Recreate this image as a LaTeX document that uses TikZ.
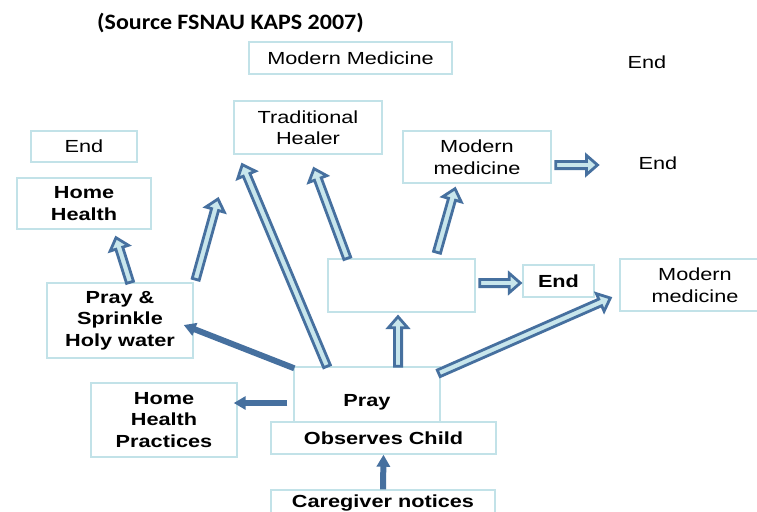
\documentclass[tikz,border=0pt]{standalone}
\usepackage{fontspec}
\setmainfont{Liberation Sans}[FakeStretch=1.24]
\newfontfamily\titlefont{Carlito}[FakeStretch=1.09]
\usepackage{tikz}
\usetikzlibrary{arrows.meta,calc}
\definecolor{edge}{HTML}{C2E2E8}
\definecolor{steel}{HTML}{46709F}
\definecolor{ice}{HTML}{C8E6EC}
\newcommand\boxfont{\fontsize{17.5}{21.5}\selectfont}
\tikzset{
  box/.style={draw=edge,line width=1.4pt,fill=white,align=center,inner sep=0pt,font=\boxfont},
  heavy/.style={box,font=\boxfont\bfseries},
  plain/.style={inner sep=0pt,font=\boxfont},
  hollow/.style={draw=steel,fill=ice,line width=2.8pt},
  push/.style={draw=steel,line width=6pt,-{Triangle[length=12pt,width=13pt]}},
}
\newcommand\blockarrow[2]{%
  \path (#1) coordinate (ta) (#2) coordinate (tb) ($(tb)!11pt!(ta)$) coordinate (tc);
  \filldraw[hollow] ($(ta)!3.6pt!90:(tb)$) -- ($(tc)!3.6pt!-90:(ta)$) -- ($(tc)!9.6pt!-90:(ta)$)
    -- (tb) -- ($(tc)!9.6pt!90:(ta)$) -- ($(tc)!3.6pt!90:(ta)$) -- ($(ta)!3.6pt!-90:(tb)$) -- cycle;}

\begin{document}
\begin{tikzpicture}[x=1pt,y=-1pt]
    \path[use as bounding box,fill=white] (0,0) rectangle (757,511);
    \node[font=\titlefont\fontsize{22}{26}\selectfont\bfseries,anchor=base] (source) at (230.5,29.5)
      {(Source FSNAU KAPS 2007)};

    \node[box,minimum width=203,minimum height=32] (mmTop) at (350.5,58) {Modern Medicine};
    \node[plain] (endTop) at (647,62) {End};
    \node[box,minimum width=148,minimum height=53] (healer) at (308,127.5) {Traditional\\Healer};
    \node[box,minimum width=148,minimum height=52] (mmMid) at (477,157) {Modern\\medicine};
    \node[plain] (endMid) at (658,163.5) {End};
    \node[box,minimum width=106,minimum height=31] (endLeft) at (84,146.5) {End};
    \node[heavy,minimum width=134,minimum height=51] (homeHealth) at (84,203.5) {Home\\Health};
    \node[heavy,minimum width=146,minimum height=75] (sprinkle) at (120,320.5)
      {Pray \&\\Sprinkle\\Holy water};
    \node[box,minimum width=147,minimum height=53] (empty) at (401.5,285.5) {};
    \node[heavy,minimum width=71,minimum height=32] (endBold) at (558.5,281) {End};
    \node[box,minimum width=150,minimum height=52] (mmRight) at (695,285) {Modern\\medicine};
    \node[heavy,minimum width=146,minimum height=74] (practices) at (164,420)
      {Home\\Health\\Practices};
    \node[heavy,minimum width=146,minimum height=55,text height=24.4pt,text depth=0pt] (pray)
      at (367,394.5) {Pray};
    \node[heavy,minimum width=225,minimum height=32] (observes) at (383.5,438) {Observes Child};
    \node[heavy,minimum width=224,minimum height=26] (caregiver) at (383,503) {Caregiver notices};
    \coordinate (loose) at (218,199);

    \draw[push] (caregiver.north) -- (observes.south);
    \draw[push] ([xshift=-6pt,yshift=-8.5pt]pray.west) -- ([xshift=-4pt,yshift=17pt]practices.east);
    \draw[push] ([xshift=1pt,yshift=-2pt]pray.north west) -- ([xshift=-10pt,yshift=-4.5pt]sprinkle.east);

    \blockarrow{[xshift=-40pt]pray.north}{[xshift=9pt,yshift=-10pt]healer.south west}
    \blockarrow{[xshift=31pt]pray.north}{[xshift=-3.5pt,yshift=-4pt]empty.south}
    \blockarrow{[xshift=-2pt,yshift=-7pt]pray.north east}{[xshift=-9pt,yshift=-13pt]mmRight.west}
    \blockarrow{[xshift=20pt]empty.north west}{[xshift=6pt,yshift=-14pt]healer.south}
    \blockarrow{[xshift=35.5pt,yshift=6pt]empty.north}{[xshift=-22pt,yshift=-5pt]mmMid.south}
    \blockarrow{[xshift=4pt,yshift=2.5pt]empty.east}{[xshift=-2pt,yshift=-2pt]endBold.west}
    \blockarrow{[xshift=10pt]sprinkle.north}{[xshift=32pt,yshift=-8pt]homeHealth.south}
    \blockarrow{[xshift=2pt,yshift=3pt]sprinkle.north east}{loose}
    \blockarrow{[xshift=4pt,yshift=-8pt]mmMid.east}{[xshift=-41pt,yshift=-1.5pt]endMid.west}
\end{tikzpicture}
\end{document}
